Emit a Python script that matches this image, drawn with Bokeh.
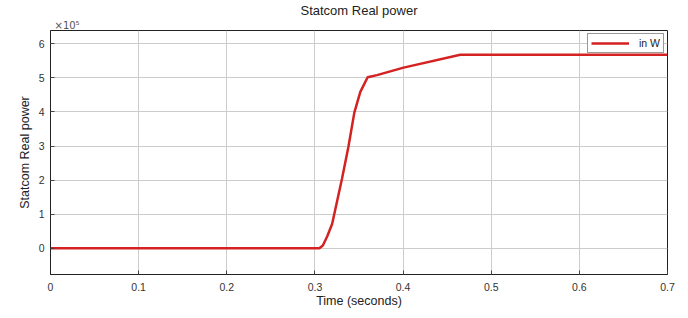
from bokeh.plotting import figure
from bokeh.models import (Range1d, FixedTicker, CustomJSTickFormatter, Title, Legend, LegendItem)
from bokeh.embed import file_html
from bokeh.resources import INLINE

# data (power in units of 1e5 W)
time_s = [0.0, 0.305, 0.309, 0.314, 0.3195, 0.3307, 0.338, 0.3447, 0.3515, 0.3598, 0.3704, 0.4006, 0.4649, 0.7]
power = [0.0, 0.0, 0.08, 0.35, 0.71, 2.04, 2.98, 3.98, 4.59, 5.02, 5.08, 5.30, 5.68, 5.68]
x_ticks = [0.0, 0.1, 0.2, 0.3, 0.4, 0.5, 0.6, 0.7]
y_ticks = [0, 1, 2, 3, 4, 5, 6]

FONT = "Liberation Sans"

p = figure(width=680, height=310, output_backend="svg", toolbar_location=None,
           x_range=Range1d(0, 0.7), y_range=Range1d(-0.77, 6.39),
           min_border_left=50, min_border_right=13, min_border_top=30, min_border_bottom=28)

p.title.text = "Statcom Real power"
p.title.align = "center"
p.title.text_font = FONT
p.title.text_font_size = "13px"
p.title.text_font_style = "normal"
p.title.text_color = "#222222"
p.title.standoff = 0
p.title.offset = 0

exp_title = Title(text="×10⁵", align="left", text_font="DejaVu Sans", text_font_size="10px",
                  text_font_style="normal", text_color="#555555", offset=4, standoff=0)
p.add_layout(exp_title, "above")

p.outline_line_color = "#222222"
p.outline_line_width = 1
p.background_fill_color = "white"
p.border_fill_color = "white"

for ax in (p.xaxis[0], p.yaxis[0]):
    ax.axis_line_color = "#222222"
    ax.major_tick_in = 4
    ax.major_tick_out = 0
    ax.minor_tick_line_color = None
    ax.major_tick_line_color = "#444444"
    ax.major_label_text_font = FONT
    ax.major_label_text_font_size = "10.5px"
    ax.major_label_text_color = "#333333"
    ax.axis_label_text_font = FONT
    ax.axis_label_text_font_size = "12.5px"
    ax.axis_label_text_font_style = "normal"
    ax.axis_label_text_color = "#222222"

p.xaxis.ticker = FixedTicker(ticks=x_ticks)
p.xaxis.formatter = CustomJSTickFormatter(code="return tick == 0 ? '0' : tick.toFixed(1);")
p.xaxis.axis_label = "Time (seconds)"
p.xaxis.major_label_standoff = 8
p.xaxis.axis_label_standoff = 0

p.yaxis.ticker = FixedTicker(ticks=y_ticks)
p.yaxis.axis_label = "Statcom Real power"
p.yaxis.major_label_standoff = 6
p.yaxis.axis_label_standoff = 4

p.xgrid.grid_line_color = "#cccccc"
p.ygrid.grid_line_color = "#cccccc"

r = p.line(time_s, power, line_color="#d42222", line_width=2.5)

legend = Legend(items=[LegendItem(label="in W", renderers=[r])], location="top_right")
legend.label_text_font = FONT
legend.label_text_font_size = "10.5px"
legend.label_text_color = "#222222"
legend.glyph_width = 38
legend.glyph_height = 10
legend.label_height = 10
legend.padding = 3
legend.spacing = 0
legend.margin = 3
legend.border_line_color = "#333333"
legend.background_fill_alpha = 1
legend.label_standoff = 10
p.add_layout(legend)

open("out.html", "w").write(file_html(p, INLINE))
